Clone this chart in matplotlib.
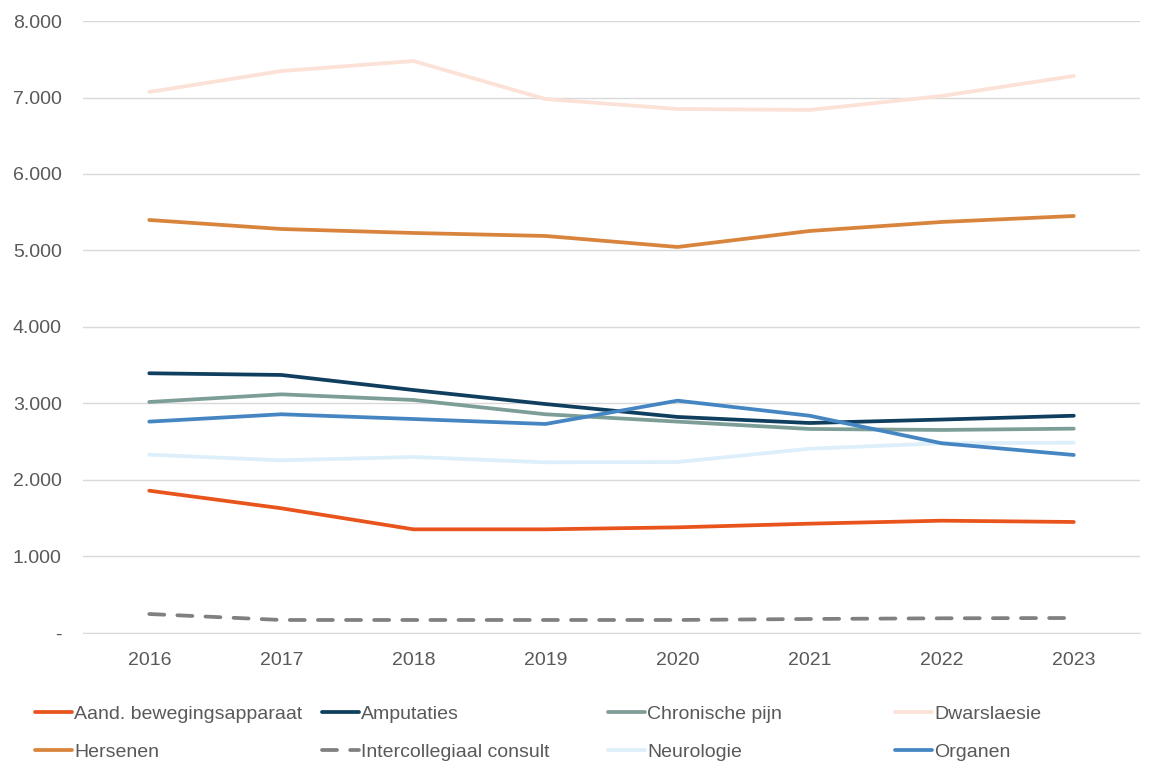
import matplotlib
matplotlib.use("Agg")
import matplotlib.pyplot as plt
from matplotlib.ticker import FuncFormatter

plt.rcParams['font.family'] = ['Liberation Sans', 'DejaVu Sans']

# Data
jaren = ['2016', '2017', '2018', '2019', '2020', '2021', '2022', '2023']
aand_beweging = [1860, 1630, 1355, 1355, 1381, 1429, 1468, 1451]
amputaties = [3395, 3373, 3176, 2993, 2824, 2745, 2790, 2840]
chronische_pijn = [3020, 3120, 3046, 2859, 2763, 2667, 2654, 2671]
dwarslaesie = [7072, 7346, 7477, 6980, 6850, 6837, 7020, 7281]
hersenen = [5399, 5281, 5229, 5190, 5046, 5255, 5373, 5451]
intercollegiaal = [248, 170, 170, 170, 170, 183, 192, 196]
neurologie = [2331, 2257, 2301, 2231, 2235, 2409, 2480, 2488]
organen = [2763, 2859, 2797, 2732, 3037, 2840, 2480, 2327]

series = [
    ('Aand. bewegingsapparaat', aand_beweging, '#E8541C', '-'),
    ('Amputaties', amputaties, '#0F3E5F', '-'),
    ('Chronische pijn', chronische_pijn, '#7C9E96', '-'),
    ('Dwarslaesie', dwarslaesie, '#FBE1D6', '-'),
    ('Hersenen', hersenen, '#D8843C', '-'),
    ('Intercollegiaal consult', intercollegiaal, '#808080', '--'),
    ('Neurologie', neurologie, '#DDEFFA', '-'),
    ('Organen', organen, '#4586C2', '-'),
]

fig = plt.figure(figsize=(11.56, 7.78), dpi=100)
ax = fig.add_axes([0.072, 0.1864, 0.914, 0.7866])

x = list(range(len(jaren)))
lijnen = []
for naam, waarden, kleur, stijl in series:
    l, = ax.plot(x, waarden, color=kleur, linewidth=2.7, linestyle=stijl,
                 solid_capstyle='round', dash_capstyle='round', label=naam)
    if stijl == '--':
        l.set_dashes((4, 3.5))
    lijnen.append(l)

ax.set_xlim(-0.5, 7.5)
ax.set_ylim(0, 8000)
ax.set_yticks(range(0, 8001, 1000))
ax.yaxis.set_major_formatter(FuncFormatter(
    lambda v, p: '-' if v == 0 else f'{int(v):,}'.replace(',', '.')))
ax.set_xticks(x)
ax.set_xticklabels(jaren)

ax.grid(axis='y', color='#D9D9D9', linewidth=1)
ax.set_axisbelow(True)
for s in ['top', 'right', 'left']:
    ax.spines[s].set_visible(False)
ax.spines['bottom'].set_color('#D9D9D9')
ax.tick_params(axis='both', length=0, labelsize=14, labelcolor='#595959')
ax.tick_params(axis='x', pad=14)
ax.tick_params(axis='y', pad=15.5)

# legenda: 4 kolommen van elk 2 items (rij 1 = eerste vier reeksen)
kol_x = [35, 322, 608, 895]
for k, xp in enumerate(kol_x):
    hs = [lijnen[k], lijnen[k + 4]]
    fig.legend(hs, [h.get_label() for h in hs], loc='upper left',
               bbox_to_anchor=(xp / 1156, 1 - 705 / 778), frameon=False,
               fontsize=14, labelcolor='#595959', handlelength=1.9,
               handletextpad=0.1, borderpad=0, borderaxespad=0, labelspacing=1.05)

fig.savefig('out.png', dpi=100)
